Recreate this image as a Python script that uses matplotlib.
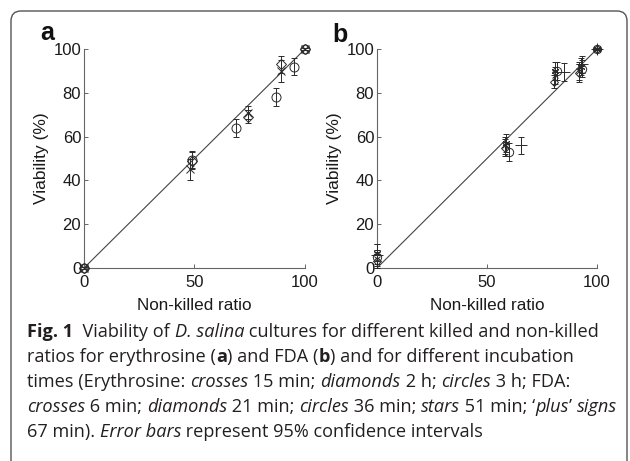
import matplotlib
matplotlib.use("Agg")
import matplotlib.pyplot as plt
from matplotlib.patches import FancyBboxPatch
from matplotlib.transforms import IdentityTransform
from matplotlib import font_manager

plt.rcParams['font.family'] = ['Liberation Sans', 'DejaVu Sans']

# ---- data: panel a (erythrosine) ----
ery_cross_x = [0, 48, 74, 89, 100]
ery_cross_y = [0, 45, 71, 90, 100]
ery_cross_e = [0.5, 5, 3, 5, 0.5]
ery_diam_x = [0, 49, 74, 89, 100]
ery_diam_y = [0, 49, 69, 93, 100]
ery_diam_e = [0.5, 4, 3, 4, 0.5]
ery_circ_x = [0, 49, 69, 87, 95, 100]
ery_circ_y = [0, 49.5, 64, 78, 92, 100]
ery_circ_e = [0.5, 4, 4, 4, 4, 0.5]

# ---- data: panel b (FDA) ----
fda_cross_x = [0, 58, 81, 92, 100]
fda_cross_y = [4, 56, 88, 90, 100]
fda_cross_e = [4, 4, 4, 4, 0.5]
fda_diam_x = [0, 58, 80.5, 92, 100]
fda_diam_y = [3, 55, 85, 89, 100]
fda_diam_e = [3, 4, 3, 4, 0.5]
fda_circ_x = [0, 60, 82, 93, 100]
fda_circ_y = [5, 53, 90, 91, 100]
fda_circ_e = [3, 4, 4, 4, 0.5]
fda_star_x = [0, 58.5, 81, 92.5, 100]
fda_star_y = [7, 57, 90, 92, 100]
fda_star_e = [4, 4, 4, 4, 0.5]
fda_plus_x = [0, 65.5, 85, 93, 100]
fda_plus_y = [6, 56, 89.5, 93, 100]
fda_plus_e = [5, 4, 4, 4, 0.5]

ref_line = [0, 100]
x_ticks = [0, 50, 100]
y_ticks = [0, 20, 40, 60, 80, 100]

caption_lines = [
    [('Fig. 1', 'bold', 'normal'), ('  Viability of ', 'normal', 'normal'), ('D. salina', 'normal', 'italic'),
     (' cultures for different killed and non-killed', 'normal', 'normal')],
    [('ratios for erythrosine (', 'normal', 'normal'), ('a', 'bold', 'normal'), (') and FDA (', 'normal', 'normal'),
     ('b', 'bold', 'normal'), (') and for different incubation', 'normal', 'normal')],
    [('times (Erythrosine: ', 'normal', 'normal'), ('crosses', 'normal', 'italic'), (' 15 min; ', 'normal', 'normal'),
     ('diamonds', 'normal', 'italic'), (' 2 h; ', 'normal', 'normal'), ('circles', 'normal', 'italic'),
     (' 3 h; FDA:', 'normal', 'normal')],
    [('crosses', 'normal', 'italic'), (' 6 min; ', 'normal', 'normal'), ('diamonds', 'normal', 'italic'),
     (' 21 min; ', 'normal', 'normal'), ('circles', 'normal', 'italic'), (' 36 min; ', 'normal', 'normal'),
     ('stars', 'normal', 'italic'), (' 51 min; \u2018', 'normal', 'normal'), ('plus', 'normal', 'italic'),
     ('\u2019 ', 'normal', 'normal'), ('signs', 'normal', 'italic')],
    [('67 min). ', 'normal', 'normal'), ('Error bars', 'normal', 'italic'),
     (' represent 95% confidence intervals', 'normal', 'normal')],
]

W, H = 630, 461
fig = plt.figure(figsize=(W / 100, H / 100), dpi=100)

# rounded frame
frame = FancyBboxPatch((11, -20), 616, H - 11 + 20, boxstyle="round,pad=0,rounding_size=10",
                       transform=IdentityTransform(), fill=False, edgecolor='#555555', linewidth=1.0)
fig.patches.append(frame)

def px_axes(x0, x1, y0, y1):
    return fig.add_axes([x0 / W, (H - y1) / H, (x1 - x0) / W, (y1 - y0) / H])

ax_a = px_axes(84, 305, 49, 268)
ax_b = px_axes(377, 597, 49, 268)

col = '#2a2a2a'

def series(ax, x, y, e, marker, msz, mew=0.7):
    ax.errorbar(x, y, yerr=e, fmt='none', ecolor=col, elinewidth=0.7, capsize=2.5, capthick=0.7,
                clip_on=False, zorder=3)
    ax.plot(x, y, linestyle='none', marker=marker, markersize=msz, markerfacecolor='none',
            markeredgecolor=col, markeredgewidth=mew, clip_on=False, zorder=4)

for ax in (ax_a, ax_b):
    ax.plot(ref_line, ref_line, color='#444444', linewidth=0.8, zorder=2)
    ax.set_xlim(0, 100)
    ax.set_ylim(0, 100)
    ax.set_xticks(x_ticks)
    ax.set_yticks(y_ticks)
    for s in ('top', 'right'):
        ax.spines[s].set_visible(False)
    for s in ('left', 'bottom'):
        ax.spines[s].set_color('#666666')
        ax.spines[s].set_linewidth(0.8)
    ax.tick_params(direction='in', length=3, width=0.7, color='#666666', labelsize=12, pad=2,
                   labelcolor='#1a1a1a')
    ax.tick_params(axis='x', pad=5)
    ax.set_xlabel('Non-killed ratio', fontsize=12.3, labelpad=6, color='#1a1a1a')
    ax.set_ylabel('Viability (%)', fontsize=12.5, labelpad=3, color='#1a1a1a')
    ax.patch.set_visible(False)

series(ax_a, ery_cross_x, ery_cross_y, ery_cross_e, 'x', 5.5)
series(ax_a, ery_diam_x, ery_diam_y, ery_diam_e, 'D', 5)
series(ax_a, ery_circ_x, ery_circ_y, ery_circ_e, 'o', 6.5)

series(ax_b, fda_cross_x, fda_cross_y, fda_cross_e, 'x', 5)
series(ax_b, fda_diam_x, fda_diam_y, fda_diam_e, 'D', 4.5)
series(ax_b, fda_circ_x, fda_circ_y, fda_circ_e, 'o', 6)
series(ax_b, fda_star_x, fda_star_y, fda_star_e, (6, 2, 0), 5.5)
series(ax_b, fda_plus_x, fda_plus_y, fda_plus_e, '+', 8)

fig.text(40 / W, 1 - 40 / H, 'a', fontsize=18, fontweight='bold', ha='left', va='baseline', color='#111111')
fig.text(332 / W, 1 - 42 / H, 'b', fontsize=18, fontweight='bold', ha='left', va='baseline', color='#111111')

# caption font: prefer a narrow face if one is installed
names = {f.name for f in font_manager.fontManager.ttflist}
cap_family = ['Lato', 'DejaVu Sans']
for cand in ('Liberation Sans Narrow', 'Open Sans', 'Lato'):
    if cand in names:
        cap_family = [cand, 'DejaVu Sans']
        break

baselines = [337, 362, 387, 412, 437]
x_left = 27
target_w = 568  # width of the first caption line, pixels

cap_texts = []
for parts, yb in zip(caption_lines, baselines):
    row = []
    for txt, wt, st in parts:
        t = fig.text(x_left / W, 1 - yb / H, txt, fontsize=12, fontweight=wt, fontstyle=st,
                     family=cap_family, ha='left', va='baseline', color='#231f20')
        row.append(t)
    cap_texts.append(row)

fig.canvas.draw()
renderer = fig.canvas.get_renderer()
w0 = sum(t.get_window_extent(renderer).width for t in cap_texts[0])
size = 12 * target_w / w0
for row in cap_texts:
    for t in row:
        t.set_fontsize(size)
fig.canvas.draw()
for row, yb in zip(cap_texts, baselines):
    xcur = x_left
    for t in row:
        t.set_position((xcur / W, 1 - yb / H))
        xcur += t.get_window_extent(renderer).width

fig.savefig('out.png', dpi=100)
